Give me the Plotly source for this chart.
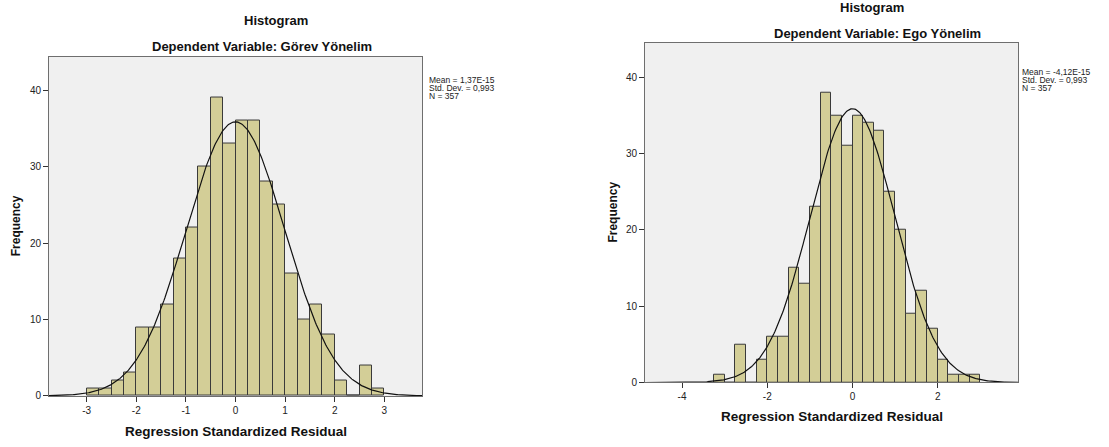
import numpy as np
import plotly.graph_objects as go

W, H = 1109, 447

# ---------------- data ----------------
bin_width = 0.25
left_bin_centers = [-2.875, -2.625, -2.375, -2.125, -1.875, -1.625, -1.375, -1.125,
                    -0.875, -0.625, -0.375, -0.125, 0.125, 0.375, 0.625, 0.875,
                    1.125, 1.375, 1.625, 1.875, 2.125, 2.375, 2.625, 2.875]
left_counts = [1, 1, 2, 3, 9, 9, 12, 18, 22, 30, 39, 33, 36, 36, 28, 25,
               16, 10, 12, 8, 2, 0, 4, 1]
left_mean, left_sd, left_n = 1.37e-15, 0.993, 357
left_stats = ["Mean = 1,37E-15", "Std. Dev. = 0,993", "N = 357"]
left_subtitle = "Dependent Variable: Görev Yönelim"
left_xticks = [-3, -2, -1, 0, 1, 2, 3]

right_bin_centers = [-3.125, -2.875, -2.625, -2.375, -2.125, -1.875, -1.625, -1.375,
                     -1.125, -0.875, -0.625, -0.375, -0.125, 0.125, 0.375, 0.625,
                     0.875, 1.125, 1.375, 1.625, 1.875, 2.125, 2.375, 2.625, 2.875]
right_counts = [1, 0, 5, 0, 3, 6, 6, 15, 13, 23, 38, 35, 31, 35, 34, 33,
                25, 20, 9, 12, 7, 3, 1, 1, 1]
right_mean, right_sd, right_n = -4.12e-15, 0.993, 357
right_stats = ["Mean = -4,12E-15", "Std. Dev. = 0,993", "N = 357"]
right_subtitle = "Dependent Variable: Ego Yönelim"
right_xticks = [-4, -2, 0, 2]

yticks = [0, 10, 20, 30, 40]

# ---------------- style ----------------
FONT = "Liberation Sans, Arial, sans-serif"
BAR = "#d3ce97"
BAR_LINE = "#3a3a3a"
PLOT_BG = "#f0f0f0"
AXIS = "#6e6e6e"


def px(x):
    return x / W


def py(y):
    return 1 - y / H


panels = [
    dict(centers=left_bin_centers, counts=left_counts, mean=left_mean, sd=left_sd, n=left_n,
         stats=left_stats, subtitle=left_subtitle, xticks=left_xticks,
         box=(49, 422, 57.3, 401.3), xr=(-3.76, 3.76), yr=(0, 44.4),
         title_x=276, title_y=21, sub_x=262, sub_y=47,
         xt_x=236, xt_y=437, yt_x=16, stats_x=427, stats_y=81),
    dict(centers=right_bin_centers, counts=right_counts, mean=right_mean, sd=right_sd, n=right_n,
         stats=right_stats, subtitle=right_subtitle, xticks=right_xticks,
         box=(645, 1018.3, 43.3, 387.7), xr=(-4.87, 3.89), yr=(0, 44.5),
         title_x=872, title_y=8, sub_x=877, sub_y=34,
         xt_x=832, xt_y=422, yt_x=613, stats_x=1020, stats_y=73),
]

fig = go.Figure()
annotations = []
layout = {}

for i, p in enumerate(panels):
    sfx = "" if i == 0 else str(i + 1)
    xa, ya = "x" + sfx, "y" + sfx
    x0, x1, y0, y1 = p["box"]

    fig.add_trace(go.Bar(
        x=p["centers"], y=p["counts"], width=bin_width,
        marker=dict(color=BAR, line=dict(color=BAR_LINE, width=1)),
        xaxis=xa, yaxis=ya, showlegend=False, hoverinfo="x+y"))

    xs = np.linspace(p["xr"][0], p["xr"][1], 400)
    ys = p["n"] * bin_width * np.exp(-0.5 * ((xs - p["mean"]) / p["sd"]) ** 2) / (p["sd"] * np.sqrt(2 * np.pi))
    fig.add_trace(go.Scatter(
        x=xs, y=ys, mode="lines", line=dict(color="#111111", width=1.2),
        xaxis=xa, yaxis=ya, showlegend=False, hoverinfo="skip"))

    layout["xaxis" + sfx] = dict(
        domain=[px(x0), px(x1)], range=list(p["xr"]), anchor=ya,
        tickvals=p["xticks"], ticktext=[str(t) for t in p["xticks"]],
        ticks="outside", ticklen=5, tickcolor="#333333", tickwidth=1,
        showline=True, linecolor=AXIS, linewidth=1, mirror=True,
        showgrid=False, zeroline=False,
        tickfont=dict(family=FONT, size=10, color="#222222"))
    layout["yaxis" + sfx] = dict(
        domain=[py(y1), py(y0)], range=list(p["yr"]), anchor=xa,
        tickvals=yticks, ticks="outside", ticklen=5, tickcolor="#333333", tickwidth=1,
        showline=True, linecolor=AXIS, linewidth=1, mirror=True,
        showgrid=False, zeroline=False,
        tickfont=dict(family=FONT, size=10, color="#222222"))

    annotations.append(dict(text="<b>Histogram</b>", x=px(p["title_x"]), y=py(p["title_y"]),
                            xref="paper", yref="paper", xanchor="center", yanchor="middle",
                            showarrow=False, font=dict(family=FONT, size=13, color="#111")))
    annotations.append(dict(text="<b>" + p["subtitle"] + "</b>", x=px(p["sub_x"]), y=py(p["sub_y"]),
                            xref="paper", yref="paper", xanchor="center", yanchor="middle",
                            showarrow=False, font=dict(family=FONT, size=13, color="#111")))
    annotations.append(dict(text="<b>Regression Standardized Residual</b>", x=px(p["xt_x"]), y=py(p["xt_y"]),
                            xref="paper", yref="paper", xanchor="center", yanchor="middle",
                            showarrow=False, font=dict(family=FONT, size=13.5, color="#111")))
    annotations.append(dict(text="<b>Frequency</b>", x=px(p["yt_x"]), y=py((y0 + y1) / 2),
                            xref="paper", yref="paper", xanchor="center", yanchor="middle",
                            textangle=-90, showarrow=False, font=dict(family=FONT, size=12, color="#111")))
    for k, line in enumerate(p["stats"]):
        annotations.append(dict(text=line, x=px(p["stats_x"]), y=py(p["stats_y"] + 8 * k),
                                xref="paper", yref="paper", xanchor="left", yanchor="middle",
                                showarrow=False, font=dict(family=FONT, size=8.5, color="#222")))

fig.update_layout(
    width=W, height=H, margin=dict(l=0, r=0, t=0, b=0),
    paper_bgcolor="white", plot_bgcolor=PLOT_BG, bargap=0,
    annotations=annotations, **layout)

# remove the browser's default 8px page margin so the figure fills the window exactly
fig.write_html("out.html", config={"displayModeBar": False},
               post_script="document.body.style.margin='0';document.body.style.overflow='hidden';")
